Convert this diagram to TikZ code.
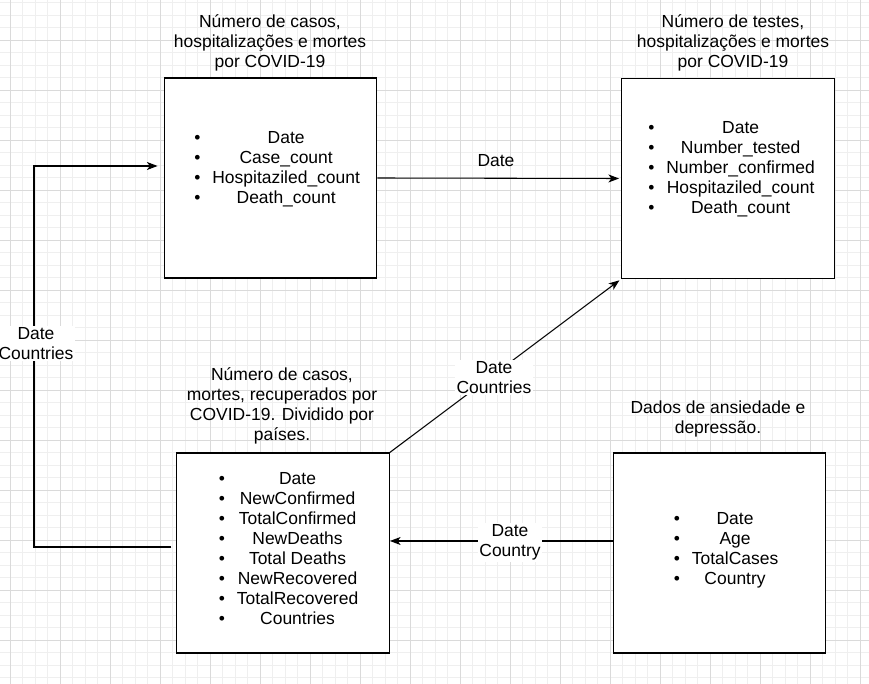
\documentclass[tikz,border=0pt]{standalone}
\usepackage{fontspec}
\setmainfont{Liberation Sans}
\usetikzlibrary{arrows.meta,calc}
\definecolor{gridminor}{HTML}{EFEFEF}
\definecolor{gridmajor}{HTML}{DADADA}
\tikzset{
  tbox/.style={draw=black,line width=0.9pt,fill=white,minimum width=159.5pt,minimum height=150pt,inner sep=0pt},
  ttl/.style={align=center,font=\fontsize{13.1}{15}\selectfont,inner sep=0pt},
  lst/.style={anchor=west,inner sep=0pt,font=\fontsize{13.1}{15}\selectfont},
  arr/.style={line width=0.8pt,-{Stealth[length=8pt,width=6pt,inset=2.2pt]}},
  elab/.style={fill=white,align=center,font=\fontsize{13.1}{15}\selectfont,inner sep=1pt},
}
\newcommand{\mylist}[1]{\begin{tabular}{@{}l@{\hspace{9pt}}c@{}}#1\end{tabular}}
\begin{document}
\begin{tikzpicture}[x=0.75pt,y=-0.75pt]
\useasboundingbox (0,0) rectangle (869,684);
\fill[white] (0,0) rectangle (869,684);
% grid
\foreach \i in {0,...,70} \draw[gridminor,line width=0.6pt] (-2.5+12.5*\i,0) -- (-2.5+12.5*\i,684);
\foreach \i in {0,...,55} \draw[gridminor,line width=0.6pt] (0,2.5+12.5*\i) -- (869,2.5+12.5*\i);
\foreach \i in {0,...,17} \draw[gridmajor,line width=0.6pt] (10+50*\i,0) -- (10+50*\i,684);
\foreach \i in {0,...,13} \draw[gridmajor,line width=0.6pt] (0,-10+50*\i) -- (869,-10+50*\i);

% boxes
\node[tbox] (b1) at (270.5,178) {};
\node[tbox] (b2) at (728,178.5) {};
\node[tbox] (b3) at (283,553) {};
\node[tbox] (b4) at (719.5,553) {};

% titles
\node[ttl] (t1) at (270,43) {Número de casos,\\hospitalizações e mortes\\por COVID-19};
\node[ttl] (t2) at (733,42.5) {Número de testes,\\hospitalizações e mortes\\por COVID-19};
\node[ttl] (t3) at (282,405.5) {Número de casos,\\mortes, recuperados por\\COVID-19. Dividido por\\países.};
\node[ttl] (t4) at (718,418.5) {Dados de ansiedade e\\depressão.};

% lists
\node[lst] (l1) at (194,169.5) {\mylist{\textbullet & Date\\ \textbullet & Case\_count\\ \textbullet & Hospitaziled\_count\\ \textbullet & Death\_count}};
\node[lst] (l2) at (648,169.5) {\mylist{\textbullet & Date\\ \textbullet & Number\_tested\\ \textbullet & Number\_confirmed\\ \textbullet & Hospitaziled\_count\\ \textbullet & Death\_count}};
\node[lst] (l3) at (218.5,550.5) {\mylist{\textbullet & Date\\ \textbullet & NewConfirmed\\ \textbullet & TotalConfirmed\\ \textbullet & NewDeaths\\ \textbullet & Total Deaths\\ \textbullet & NewRecovered\\ \textbullet & TotalRecovered\\ \textbullet & Countries}};
\node[lst] (l4) at (673.5,550.5) {\mylist{\textbullet & Date\\ \textbullet & Age\\ \textbullet & TotalCases\\ \textbullet & Country}};

% connectors
\draw[arr,shorten >=1.5pt] (b1.east) -- (b2.west);
\node[ttl] (e1) at (496,161) {Date};

\draw[arr,shorten >=1.5pt] (b3.north east) -- (b2.south west);
\node[elab] (e2) at (494,377.5) {Date\\Countries};

\draw[arr] ($(b4.west)+(0,-12)$) -- ($(b3.east)+(0,-12)$);
\node[elab] (e3) at (510,542.5) {Date\\Country};

\coordinate (tl) at (34,166);
\draw[arr,shorten <=3.5pt,shorten >=4.5pt] ($(b3.west)+(0,-6)$) -| (tl) -- ($(b1.west)+(0,-12)$);
\node[elab] (e4) at (36,343.5) {Date\\Countries};
\end{tikzpicture}
\end{document}
